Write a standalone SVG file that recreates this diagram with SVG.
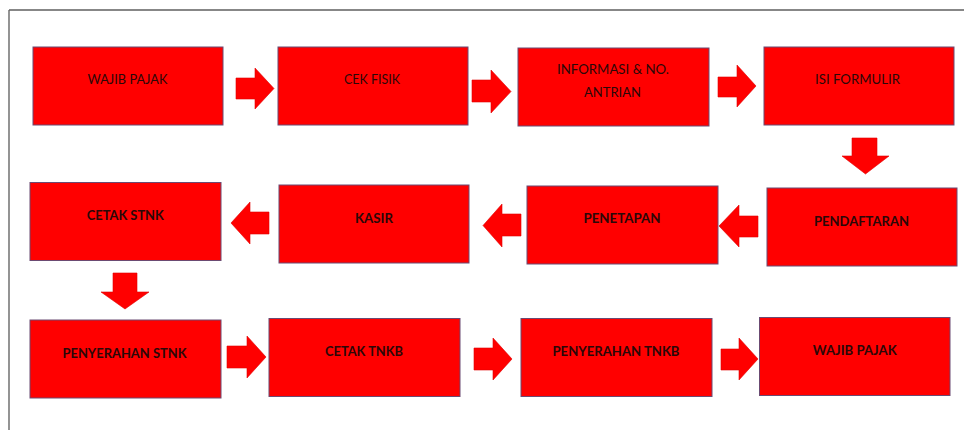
<svg xmlns="http://www.w3.org/2000/svg" width="964" height="430" viewBox="0 0 964 430">
<style>
.box{fill:#ff0000;stroke:#6b4a72;stroke-width:1}
.arr{fill:#ff0000;stroke:#e00000;stroke-width:0.6}
.t{font-family:Lato,"Liberation Sans",sans-serif;font-size:14px;fill:#2a0808;text-anchor:middle}
.b{font-weight:bold}
</style>
<rect width="964" height="430" fill="#ffffff"/>
<g id="frame">
<line x1="9" y1="10" x2="964" y2="10" stroke="#111" stroke-width="1.2"/>
<line x1="9" y1="10" x2="9" y2="430" stroke="#666" stroke-width="1.4"/>
</g>
<g id="connectors">
<polygon class="arr" points="236,78 255,78 255,68 274,88.5 255,109 255,99 236,99"/>
<polygon class="arr" points="472,80 491,80 491,70 511,91.5 491,113 491,102 472,102"/>
<polygon class="arr" points="718,77 737,77 737,65 756,86 737,107 737,97 718,97"/>
<polygon class="arr" points="852,138 877,138 877,156 889,156 865.5,174 842,156 852,156"/>
<polygon class="arr" points="758,216 739,216 739,205 719,226 739,247 739,237 758,237"/>
<polygon class="arr" points="521,214 502,214 502,204 483,225.5 502,247 502,236 521,236"/>
<polygon class="arr" points="269,212 250,212 250,202 231,223 250,244 250,234 269,234"/>
<polygon class="arr" points="113,273 137,273 137,292 149,292 125,309 101,292 113,292"/>
<polygon class="arr" points="227,346 247,346 247,336 266,357 247,378 247,368 227,368"/>
<polygon class="arr" points="474,348 493,348 493,338 512,359 493,380 493,370 474,370"/>
<polygon class="arr" points="721,349 739,349 739,338 758,359 739,380 739,370 721,370"/>
</g>
<g id="n1"><rect class="box" x="33" y="47" width="190" height="78"/><text class="t" x="127.5" y="84" textLength="80" lengthAdjust="spacingAndGlyphs">WAJIB PAJAK</text></g>
<g id="n2"><rect class="box" x="278" y="47" width="190" height="78"/><text class="t" x="372" y="84" textLength="56" lengthAdjust="spacingAndGlyphs">CEK FISIK</text></g>
<g id="n3"><rect class="box" x="518" y="48" width="191" height="78"/><text class="t" x="613" y="74" textLength="112" lengthAdjust="spacingAndGlyphs">INFORMASI &amp; NO.</text><text class="t" x="612.5" y="96.7" textLength="57" lengthAdjust="spacingAndGlyphs">ANTRIAN</text></g>
<g id="n4"><rect class="box" x="764" y="47" width="190" height="78"/><text class="t" x="857.5" y="84" textLength="85" lengthAdjust="spacingAndGlyphs">ISI FORMULIR</text></g>
<g id="n5"><rect class="box" x="767" y="188" width="190" height="78"/><text class="t b" x="861.5" y="226" textLength="95" lengthAdjust="spacingAndGlyphs">PENDAFTARAN</text></g>
<g id="n6"><rect class="box" x="527" y="186" width="191" height="78"/><text class="t b" x="622" y="222.7" textLength="77" lengthAdjust="spacingAndGlyphs">PENETAPAN</text></g>
<g id="n7"><rect class="box" x="279" y="185" width="190" height="78"/><text class="t b" x="374" y="222.7" textLength="38" lengthAdjust="spacingAndGlyphs">KASIR</text></g>
<g id="n8"><rect class="box" x="30" y="182.5" width="191" height="78"/><text class="t b" x="125.3" y="219.7" textLength="77" lengthAdjust="spacingAndGlyphs">CETAK STNK</text></g>
<g id="n9"><rect class="box" x="30" y="320" width="191" height="78"/><text class="t b" x="124.5" y="357.7" textLength="124" lengthAdjust="spacingAndGlyphs">PENYERAHAN STNK</text></g>
<g id="n10"><rect class="box" x="269" y="318.5" width="191" height="78"/><text class="t b" x="364" y="355.7" textLength="78" lengthAdjust="spacingAndGlyphs">CETAK TNKB</text></g>
<g id="n11"><rect class="box" x="521" y="318.5" width="191" height="78"/><text class="t b" x="616" y="356" textLength="127" lengthAdjust="spacingAndGlyphs">PENYERAHAN TNKB</text></g>
<g id="n12"><rect class="box" x="759.5" y="317.5" width="190.5" height="78"/><text class="t b" x="854.7" y="354.7" textLength="84" lengthAdjust="spacingAndGlyphs">WAJIB PAJAK</text></g>
</svg>
